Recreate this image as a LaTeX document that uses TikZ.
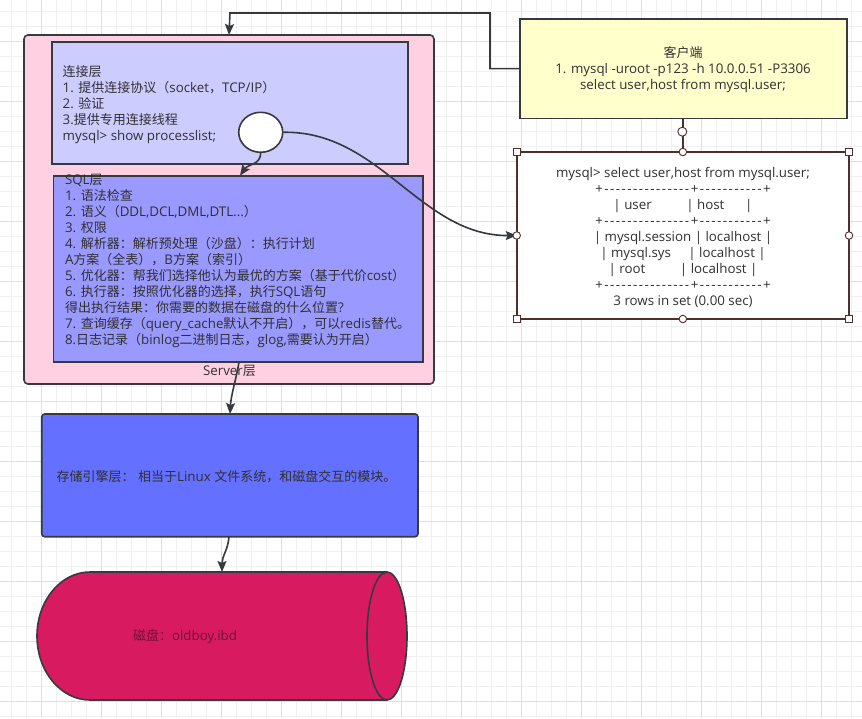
\documentclass[tikz,border=0pt]{standalone}
\usepackage{fontspec}
\setmainfont{Open Sans}[Ligatures=TeXOff,Scale=1.025]
\newfontfamily\cjkfam{Noto Sans CJK SC}[Ligatures=TeXOff]
\newcommand\zh[1]{{\cjkfam #1}}
\newcommand\dashline[1]{{\addfontfeature{LetterSpace=11}#1}}
\usetikzlibrary{arrows.meta,shapes.geometric,calc}
\definecolor{edge}{HTML}{36393D}
\definecolor{txt}{HTML}{303030}
\definecolor{serverpink}{HTML}{FFD0E1}
\definecolor{connfill}{HTML}{CCCCFF}
\definecolor{sqlfill}{HTML}{9999FF}
\definecolor{storefill}{HTML}{6470FF}
\definecolor{diskfill}{HTML}{D81B60}
\definecolor{clientfill}{HTML}{FFFFCC}
\definecolor{resedge}{HTML}{4F2E2E}
\definecolor{gridminor}{HTML}{F0F0F0}
\definecolor{gridmajor}{HTML}{DFDFDF}
\definecolor{disktxt}{HTML}{6E1238}
\tikzset{
  box/.style={draw=edge, line width=1.6pt, inner sep=0pt, outer sep=0pt},
  label13/.style={inner sep=0pt, outer sep=0pt, text=txt, font=\fontsize{13}{16}\selectfont},
  conn/.style={draw=edge, line width=1.6pt, -{Stealth[length=11pt,width=9pt,inset=2pt]}},
  handlesq/.style={draw=resedge, fill=white, line width=0.9pt, minimum size=6.5pt, inner sep=0pt, outer sep=0pt},
  handleci/.style={draw=resedge, fill=white, line width=0.9pt, circle, minimum size=7.5pt, inner sep=0pt, outer sep=0pt},
}
\begin{document}
\begin{tikzpicture}[x=1pt,y=-1pt]
\useasboundingbox (0,0) rectangle (862,718);
\fill[white] (0,0) rectangle (862,718);
% grid
\foreach \i in {0,...,56} \draw[gridminor, line width=0.8pt] ({11.7+15*\i},0) -- ({11.7+15*\i},718);
\foreach \i in {0,...,47} \draw[gridminor, line width=0.8pt] (0,{11.7+15*\i}) -- (862,{11.7+15*\i});
\foreach \i in {0,...,14} \draw[gridmajor, line width=0.8pt] ({41.7+60*\i},0) -- ({41.7+60*\i},718);
\foreach \i in {0,...,11} \draw[gridmajor, line width=0.8pt] (0,{41.7+60*\i}) -- (862,{41.7+60*\i});

% server layer
\node[box, fill=serverpink, rounded corners=4pt, minimum width=410pt, minimum height=349pt] (server) at (229,209.5) {};
\node[box, fill=connfill, minimum width=356.3pt, minimum height=122.3pt] (connbox) at (229.85,102.85) {};
\node[box, fill=sqlfill, minimum width=369.7pt, minimum height=186pt] (sqlbox) at (238.15,268.7) {};
\node[label13, align=left, anchor=west] (conntext) at (62.7,104.9) {\zh{连接层}\\
1. \zh{提供连接协议（}socket\zh{，}TCP/IP\zh{）}\\
2. \zh{验证}\\
3.\zh{提供专用连接线程}\\
mysql> show processlist;};
\node[label13, align=left, anchor=west] (sqltext) at (65,261.4) {SQL\zh{层}\\
1. \zh{语法检查}\\
2. \zh{语义（}DDL,DCL,DML,DTL...\zh{）}\\
3. \zh{权限}\\
4. \zh{解析器：解析预处理（沙盘）：执行计划}\\
A\zh{方案（全表），}B\zh{方案（索引）}\\
5. \zh{优化器：帮我们选择他认为最优的方案（基于代价}cost\zh{）}\\
6. \zh{执行器：按照优化器的选择，执行}SQL\zh{语句}\\
\zh{得出执行结果：你需要的数据在磁盘的什么位置}?\\
7. \zh{查询缓存（}query\_cache\zh{默认不开启），可以}redis\zh{替代。}\\
8.\zh{日志记录（}binlog\zh{二进制日志，}glog,\zh{需要认为开启）}};
\node[label13] (serverlabel) at (229.5,371) {Server\zh{层}};
\node[box, fill=white, ellipse, minimum width=44pt, minimum height=40pt] (circ) at (260.7,132.3) {};

% client
\node[box, fill=clientfill, minimum width=326.7pt, minimum height=99.3pt] (client) at (683.35,68.65) {};
\node[label13, align=center] (clienttext) at (683,69.5) {\zh{客户端}\\
1. mysql -uroot -p123 -h 10.0.0.51 -P3306\\
select user,host from mysql.user;};

% result
\node[draw=resedge, line width=1.6pt, fill=white, inner sep=0pt, outer sep=0pt, minimum width=332.3pt, minimum height=167pt] (res) at (682.85,235.5) {};
\node[label13, align=center] (restext) at (683,237.2) {mysql> select user,host from mysql.user;\\
\dashline{+---------------+-----------+}\\
| user~~~~~~~~~~| host~~~~~~|\\
\dashline{+---------------+-----------+}\\
| mysql.session | localhost |\\
| mysql.sys~~~~~| localhost |\\
| root~~~~~~~~~~| localhost |\\
\dashline{+---------------+-----------+}\\
3 rows in set (0.00 sec)};

% storage
\node[box, fill=storefill, rounded corners=3pt, minimum width=376.3pt, minimum height=122.7pt] (store) at (229.85,475.35) {};
\node[label13] (storetext) at (226.5,476.7) {\zh{存储引擎层：}~\zh{相当于}Linux \zh{文件系统，和磁盘交互的模块。}};

% disk cylinder
\draw[draw=edge, line width=1.6pt, fill=diskfill] (90,572) -- (387,572)
  arc[start angle=-90, end angle=90, x radius=20, y radius=64] -- (90,700)
  arc[start angle=90, end angle=270, x radius=53, y radius=64] -- cycle;
\draw[draw=edge, line width=1.6pt] (387,572) arc[start angle=-90, end angle=-270, x radius=20, y radius=64];
\coordinate (disktop) at (222,572);
\node[inner sep=0pt, text=disktxt, font=\fontsize{13}{16}\selectfont] (disktext) at (185,636.7) {\zh{磁盘：}oldboy.ibd};

% connectors
\coordinate (tA) at (490,13);
\coordinate (tB) at (230,13);
\draw[conn] (client.west) -- (tA |- client.west) -- (tA) -- (tB) -- (server.north);
\coordinate (sqltop) at (240,175.7);
\draw[conn] (circ.south) .. controls (261,165) and (248,164) .. (sqltop);
\draw[conn] (circ.east) .. controls (380,130) and (420,236) .. (res.west);
\coordinate (sqlbot) at (239,362);
\coordinate (storetop) at (230,414);
\draw[conn] (sqlbot) .. controls (236,380) and (231,395) .. (storetop);
\coordinate (storebot) at (229,536.7);
\draw[conn] (storebot) .. controls (228,550) and (222,556) .. (disktop);
\draw[draw=resedge, line width=1.6pt] (client.south -| res.north) -- (res.north);
\node[handleci, minimum size=9pt] (linkdot) at (682.3,131.7) {};

% selection handles
\node[handlesq] (hnw) at (res.north west) {};
\node[handlesq] (hne) at (res.north east) {};
\node[handlesq] (hsw) at (res.south west) {};
\node[handlesq] (hse) at (res.south east) {};
\node[handleci] (hn) at (res.north) {};
\node[handleci] (hs) at (res.south) {};
\node[handleci] (hw) at (res.west) {};
\node[handleci] (he) at (res.east) {};
\end{tikzpicture}
\end{document}
